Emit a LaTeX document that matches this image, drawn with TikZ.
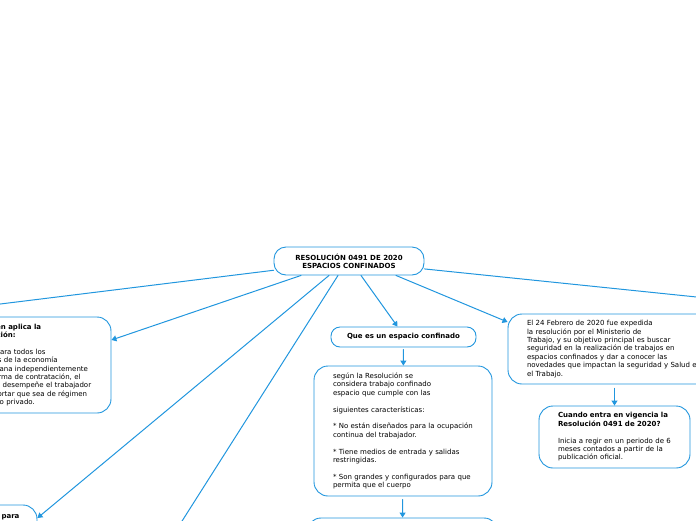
\documentclass[tikz,border=0pt]{standalone}
\usepackage{fontspec}
\setmainfont{DejaVu Sans}
\usetikzlibrary{arrows.meta}
\definecolor{mapblue}{RGB}{33,150,222}

\begin{document}
\begin{tikzpicture}[x=1pt,y=-1pt,>={Triangle[length=5pt,width=6pt]},
  font=\fontsize{7}{8.4}\selectfont,line cap=round,
  link/.style={mapblue,line width=1pt},
  topic/.style={draw=mapblue,line width=0.9pt,fill=white,rounded corners=14pt,align=left,inner xsep=19pt,inner ysep=0pt},
  head/.style={topic,align=center,font=\fontsize{7}{8.4}\selectfont\bfseries,inner xsep=4pt}]
\useasboundingbox (0,0) rectangle (696,520);
\clip (0,0) rectangle (696,520);
\node[head,rounded corners=12pt,minimum width=150pt,minimum height=28pt] (root) at (349,261) {RESOLUCIÓN 0491 DE 2020\\ESPACIOS CONFINADOS};
\node[head,rounded corners=9pt,minimum width=145pt,minimum height=20pt] (que) at (403.5,337) {Que es un espacio confinado};
\node[topic,text width=140pt,minimum height=130pt] (def) at (403,431) {según la Resolución se\\considera trabajo confinado\\espacio que cumple con las\\[8.4pt]siguientes características:\\[8.4pt]* No están diseñados para la ocupación\\continua del trabajador.\\[8.4pt]* Tiene medios de entrada y salidas\\restringidas.\\[8.4pt]* Son grandes y configurados para que\\permita que el cuerpo};
\node[topic,minimum width=191pt,minimum height=24pt] (below) at (402.5,530) {};
\node[topic,text width=120pt,minimum height=96pt] (quien) at (32,365) {\textbf{¿A quien aplica la}\\\textbf{resolución:}\\[8.4pt]Aplica para todos los\\sectores de la economía\\colombiana independientemente\\de la forma de contratación, el\\y donde desempeñe el trabajador\\sin importar que sea de régimen\\público o privado.};
\node[topic,minimum width=53pt,minimum height=40pt,inner xsep=4pt] (para) at (10.5,525) {\textbf{para}\\ \mbox{}\\ \mbox{}};
\node[topic,text width=202pt,minimum height=70pt] (feb) at (628,349) {El 24 Febrero de 2020 fue expedida\\la resolución por el Ministerio de\\Trabajo, y su objetivo principal es buscar\\seguridad en la realización de trabajos en\\espacios confinados y dar a conocer las\\novedades que impactan la seguridad y Salud en\\el Trabajo.};
\node[topic,text width=113pt,minimum height=62pt] (cuando) at (614.5,437) {\textbf{Cuando entra en vigencia la}\\\textbf{Resolución 0491 de 2020?}\\[8.4pt]Inicia a regir en un periodo de 6\\meses contados a partir de la\\publicación oficial.};
\coordinate (offL) at (-20,306.5);
\coordinate (offB) at (170,540);
\coordinate (offR) at (716,299);
\draw[link] (root.187) -- (offL);
\draw[link,->] ([xshift=-48pt]root.south) -- ([yshift=25pt]quien.east);
\draw[link,->] ([xshift=-20pt]root.south) -- ([yshift=7pt]para.east);
\draw[link] ([xshift=-11pt]root.south) -- (offB);
\draw[link,->] ([xshift=12pt]root.south) -- ([xshift=-6pt]que.north);
\draw[link,->] ([xshift=47pt]root.south) -- ([yshift=27pt]feb.west);
\draw[link] (root.354) -- (offR);
\draw[link,->,shorten <=2pt] (que) -- (def);
\draw[link,->,shorten <=3pt] (def) -- (below);
\draw[link,->,shorten <=4pt] (feb.south -| cuando.north) -- (cuando.north);
\end{tikzpicture}
\end{document}
